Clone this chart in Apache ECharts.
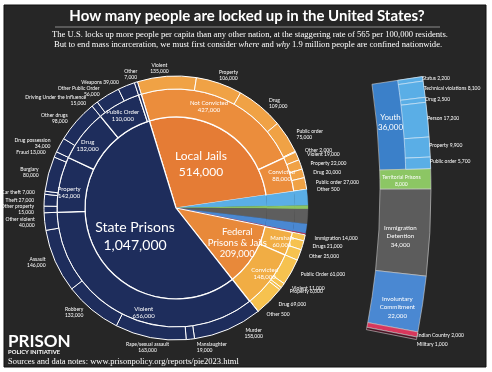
<!DOCTYPE html>
<html><head><meta charset="utf-8">
<script src="https://cdn.jsdelivr.net/npm/echarts@6/dist/echarts.min.js"></script>
<style>html,body{margin:0;padding:0;background:#fff}#c{width:492px;height:372px}</style>
</head><body><div id="c"></div>
<script>
// ---------- DATA ----------
const coreNames = ['Local Jails','Youth','Territorial Prisons','Immigration Detention','Involuntary Commitment','Indian Country','Military','Federal Prisons & Jails','State Prisons'];
const coreValues = [514000,36000,8000,34000,22000,2000,1000,209000,1047000];
const coreGroups = ['jail','youth','terr','immig','invol','indian','mil','fed','state'];

const midNames = ['Not Convicted','Convicted','Youth','Territorial Prisons','Immigration Detention','Involuntary Commitment','Indian Country','Military','Marshals','Convicted','Violent','Property','Drug','Public Order','Other'];
const midValues = [427000,88000,36000,8000,34000,22000,2000,1000,60000,148000,656000,142000,132000,110000,7000];
const midGroups = ['jail','jail','youth','terr','immig','invol','indian','mil','fed','fed','state','state','state','state','state'];

const outerNames = ['Violent','Property','Drug','Public order','Other','Violent','Property','Drug','Public order','Other',
  'Youth','Territorial Prisons','Immigration Detention','Involuntary Commitment','Indian Country','Military',
  'Immigration','Drugs','Other','Public Order','Violent','Property','Drug','Other',
  'Murder','Manslaughter','Rape/sexual assault','Robbery','Assault','Other violent',
  'Other property','Theft','Car theft','Burglary','Fraud','Drug possession','Other drugs',
  'Driving Under the Influence','Other Public Order','Weapons','Other'];
const outerValues = [135000,106000,109000,75000,2000,19000,22000,20000,27000,500,
  36000,8000,34000,22000,2000,1000,
  14000,21000,25000,61000,11000,6000,69000,500,
  158000,19000,163000,132000,146000,40000,
  15000,27000,7000,80000,13000,34000,98000,
  15000,56000,39000,7000];
const outerGroups = ['jail','jail','jail','jail','jail','jailc','jailc','jailc','jailc','jailc',
  'youth','terr','immig','invol','indian','mil',
  'fed','fed','fed','fed','fed','fed','fed','fed',
  'state','state','state','state','state','state',
  'state','state','state','state','state','state','state',
  'state','state','state','state'];

const otherNames = ['Youth','Territorial Prisons','Immigration Detention','Involuntary Commitment','Indian Country','Military'];
const otherValues = [36000,8000,34000,22000,2000,1000];
const youthNames = ['Status','Technical violations','Drug','Person','Property','Public order'];
const youthValues = [2200,8100,2500,17200,9900,5700];

// ---------- STYLE ----------
const fmt = v => v.toLocaleString('en-US');
const ringColors = {
  state:['#1e2d5c','#1e2d5c','#1e2d5c'],
  jail:['#e57c35','#eb8d3c','#f0a245'],
  jailc:['#e57c35','#eb8d3c','#f0a245'],
  fed:['#e8893a','#f1ad44','#f6c24f']
};
const sysColors = {youth:'#5aaee6', terr:'#8cc664', immig:'#5e5e5e', invol:'#4a88d2', indian:'#d8375c', mil:'#5a1a2c'};
const barColors = {youth:'#3b80c9', terr:'#8cc664', immig:'#5c5c5c', invol:'#4a88d2', indian:'#d8375c', mil:'#4a1424'};
const colorOf = (g, ring) => ringColors[g] ? ringColors[g][ring] : sysColors[g];
const FONT = 'Lato';
const CX = 176, CY = 208, START = 107;

const coreLabelStyle = {
  'State Prisons': {fontSize:14, lineHeight:18, offset:[2,6]},
  'Local Jails': {fontSize:12, lineHeight:16, offset:[-1,-3]},
  'Federal Prisons & Jails': {fontSize:9.5, lineHeight:11, offset:[20,9]}
};
const coreData = coreNames.map((n,i) => {
  const st = coreLabelStyle[n];
  return {name:n, value:coreValues[i],
    itemStyle:{color:colorOf(coreGroups[i],0), borderWidth: st ? 1.2 : 0.3, borderColor: st ? '#fff' : colorOf(coreGroups[i],0)},
    label: st ? {show:true, fontSize:st.fontSize, lineHeight:st.lineHeight, offset:st.offset,
      formatter: (n==='Federal Prisons & Jails' ? 'Federal\nPrisons & Jails' : n) + '\n' + fmt(coreValues[i])} : {show:false}};
});

const midOffsets = {0:[-11,-3], 1:[2,-2], 8:[3,1], 9:[3,0], 10:[13,7], 11:[-1,6], 12:[-3,4], 13:[-1,2]};
const midData = midNames.map((n,i) => {
  const g = midGroups[i];
  const big = ['jail','fed','state'].includes(g) && midValues[i] > 20000;
  return {name:n, value:midValues[i],
    itemStyle:{color:colorOf(g,1), borderWidth: ringColors[g] ? 1.2 : 0.3, borderColor: ringColors[g] ? '#fff' : colorOf(g,1)},
    label: big ? {show:true, offset: midOffsets[i] || [0,0], formatter: n + '\n' + fmt(midValues[i])} : {show:false}};
});

const inlineState = ['Weapons','Fraud','Car theft','Theft'];
const outerData = outerNames.map((n,i) => {
  const g = outerGroups[i];
  const isSys = !ringColors[g];
  const inline = g==='fed' || g==='jailc' || (g==='jail' && n==='Other') || (g==='state' && inlineState.includes(n));
  return {name:n, value:outerValues[i],
    itemStyle:{color:colorOf(g,2), borderWidth: isSys ? 0.3 : 1, borderColor: isSys ? colorOf(g,2) : '#fff'},
    label: isSys ? {show:false} : {show:true, formatter: n + (inline ? ' ' : '\n') + fmt(outerValues[i])}};
});
// label placement tweaks for the outer ring (by data index)
const outerTweaks = {0:{align:'center', dx:-1, dy:-4}, 1:{align:'center', dx:2, dy:-4}, 24:{align:'center', dx:18}, 25:{dy:4}, 26:{align:'center', dx:4, dy:6}, 40:{align:'center', dx:2, dy:-4}};

const grandTotal = coreValues.reduce((a,b)=>a+b,0);
const youthSubTotal = youthValues.reduce((a,b)=>a+b,0);

const pieBase = {type:'pie', center:[CX,CY], startAngle:START, clockwise:true, silent:true, animation:false,
  emphasis:{disabled:true}};

const sysLabel = {
  'Youth': {show:true, position:'middle', offset:[-12,-2], fontSize:8, lineHeight:10, formatter:'Youth\n36,000'},
  'Territorial Prisons': {show:true, position:'middle', offset:[-4,2], fontSize:5, lineHeight:7},
  'Immigration Detention': {show:true, position:'middle', offset:[-4,5], fontSize:6.2, lineHeight:8.5},
  'Involuntary Commitment': {show:true, position:'middle', offset:[0,7], fontSize:6.2, lineHeight:8.5},
  'Indian Country': {show:true, position:'middle', align:'left', offset:[25,6], fontSize:5},
  'Military': {show:true, position:'middle', align:'left', offset:[25,11], fontSize:5}
};
const sysText = {
  'Territorial Prisons': 'Territorial Prisons\n' + fmt(otherValues[1]),
  'Immigration Detention': 'Immigration\nDetention\n' + fmt(otherValues[2]),
  'Involuntary Commitment': 'Involuntary\nCommitment\n' + fmt(otherValues[3]),
  'Indian Country': 'Indian Country ' + fmt(otherValues[4]),
  'Military': 'Military ' + fmt(otherValues[5])
};
const sysSeries = otherNames.map((n,i) => ({
  type:'bar', coordinateSystem:'polar', polarIndex:0, angleAxisIndex:0, radiusAxisIndex:0, stack:'sys', name:n,
  data:[otherValues[i]], barWidth:'100%', silent:true, animation:false,
  itemStyle:{color: barColors[coreGroups[i+1]], borderColor:'#cfcfcf', borderWidth:0.6},
  label: Object.assign({color:'#fff', fontFamily:FONT, rotate:0, formatter: sysText[n] || undefined}, sysLabel[n])
}));
const youthSeries = youthNames.map((n,i) => ({
  type:'bar', coordinateSystem:'polar', polarIndex:1, angleAxisIndex:1, radiusAxisIndex:1, stack:'youth', name:n,
  data:[youthValues[i]], barWidth:'100%', silent:true, animation:false,
  itemStyle:{color:'#5aaee6', borderColor:'#e0eef8', borderWidth:0.6},
  label:{show:true, position:'middle', align:'left', rotate:0, offset:[12,-2], color:'#fff', fontSize:5, fontFamily:FONT,
    formatter: n + ' ' + fmt(youthValues[i])}
}));

const option = {
  backgroundColor:'#ffffff',
  animation:false,
  textStyle:{fontFamily:FONT},
  polar:[{center:[-334,191], radius:[714,765]},{center:[-334,191], radius:[740,765]}],
  angleAxis:[
    {polarIndex:0, type:'value', min:0, max:grandTotal, startAngle:8.6, clockwise:true, show:false, splitLine:{show:false}},
    {polarIndex:1, type:'value', min:0, max:youthSubTotal*grandTotal/otherValues[0], startAngle:8.6, clockwise:true, show:false, splitLine:{show:false}}
  ],
  radiusAxis:[
    {polarIndex:0, type:'category', data:['all'], show:false},
    {polarIndex:1, type:'category', data:['youth'], show:false}
  ],
  graphic:[
    {type:'rect', z:-10, shape:{x:4,y:5,width:482,height:362}, style:{fill:'#262626', stroke:'#111', lineWidth:1}},
    {type:'text', x:247, y:16, style:{text:'How many people are locked up in the United States?', fill:'#fff',
      font:'bold 15px Lato', textAlign:'center', textVerticalAlign:'middle'}},
    {type:'line', shape:{x1:55,y1:27,x2:440,y2:27}, style:{stroke:'#8c8c8c', lineWidth:1}},
    {type:'text', x:250, y:34.5, style:{text:'The U.S. locks up more people per capita than any other nation, at the staggering rate of 565 per 100,000 residents.',
      fill:'#fff', font:'8.6px "Liberation Serif"', textAlign:'center', textVerticalAlign:'middle'}},
    {type:'text', x:248, y:44.5, style:{text:'But to end mass incarceration, we must first consider {i|where} and {i|why} 1.9 million people are confined nationwide.',
      fill:'#fff', font:'8.6px "Liberation Serif"', textAlign:'center', textVerticalAlign:'middle',
      rich:{i:{fontStyle:'italic', fontFamily:'Liberation Serif', fontSize:8.6, fill:'#fff'}}}},
    {type:'text', x:8, y:341.5, style:{text:'PRISON', fill:'#fff', font:'bold 17px Lato', textVerticalAlign:'middle'}},
    {type:'text', x:8, y:352.5, style:{text:'POLICY INITIATIVE', fill:'#fff', font:'bold 5.9px Lato', textVerticalAlign:'middle'}},
    {type:'text', x:8, y:362, style:{text:'Sources and data notes: www.prisonpolicy.org/reports/pie2023.html', fill:'#fff',
      font:'8.5px "Liberation Serif"', textVerticalAlign:'middle'}}
  ],
  series:[
    Object.assign({}, pieBase, {name:'core', radius:[0,91], data:coreData,
      label:{position:'inside', color:'#fff', fontFamily:FONT}, labelLine:{show:false}}),
    Object.assign({}, pieBase, {name:'mid', radius:[91,119], data:midData,
      label:{position:'inside', color:'#fff', fontSize:6, lineHeight:7, fontFamily:FONT}, labelLine:{show:false}}),
    Object.assign({}, pieBase, {name:'outer', radius:[119,132], data:outerData, avoidLabelOverlap:false,
      label:{position:'outside', color:'#fff', fontSize:5, lineHeight:6, fontFamily:FONT, overflow:'none'},
      labelLine:{show:false, length:4, length2:1},
      labelLayout: p => outerTweaks[p.dataIndex] || {}}),
    ...sysSeries,
    ...youthSeries
  ]
};
const chart = echarts.init(document.getElementById('c'), null, {renderer:'canvas'});
chart.setOption(option);
</script></body></html>
